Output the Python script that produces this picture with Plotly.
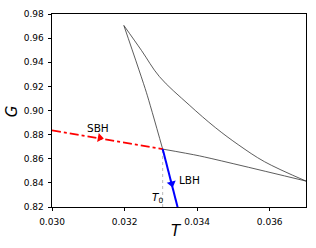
import plotly.graph_objects as go

# Swallowtail branches
inter_T = [0.03198, 0.03247, 0.03296, 0.03378, 0.03450, 0.03515, 0.03586, 0.03700]
inter_G = [0.9705, 0.9496, 0.9281, 0.9046, 0.8859, 0.8713, 0.8575, 0.8415]

lbh_unstable_T = [0.03198, 0.03260, 0.03305]
lbh_unstable_G = [0.9705, 0.9151, 0.8680]

lbh_T = [0.03305, 0.03346, 0.03352]
lbh_G = [0.8680, 0.8200, 0.8130]

sbh_T = [0.03000, 0.03305]
sbh_G = [0.8835, 0.8680]

sbh_unstable_T = [0.03305, 0.03406, 0.03700]
sbh_unstable_G = [0.8680, 0.8624, 0.8415]

T0 = 0.03305
G0 = 0.8680

arrow_T = [0.03132, 0.03330]
arrow_G = [0.8773, 0.8394]

x_ticks = [0.030, 0.032, 0.034, 0.036]
y_ticks = [0.82, 0.84, 0.86, 0.88, 0.90, 0.92, 0.94, 0.96, 0.98]

FONT = "DejaVu Sans"
thin = dict(color="#333333", width=0.8)

fig = go.Figure()
fig.add_trace(go.Scatter(x=inter_T, y=inter_G, mode="lines", line=dict(thin, shape="spline", smoothing=1.0), hoverinfo="skip"))
fig.add_trace(go.Scatter(x=lbh_unstable_T, y=lbh_unstable_G, mode="lines", line=dict(thin, shape="spline", smoothing=0.6), hoverinfo="skip"))
fig.add_trace(go.Scatter(x=sbh_unstable_T, y=sbh_unstable_G, mode="lines", line=dict(thin, shape="spline", smoothing=0.6), hoverinfo="skip"))
fig.add_trace(go.Scatter(x=[T0, T0], y=[0.82, G0], mode="lines", line=dict(color="#aaaaaa", width=0.8, dash="dot"), hoverinfo="skip"))
fig.add_trace(go.Scatter(x=sbh_T, y=sbh_G, mode="lines", line=dict(color="#ff0000", width=1.6, dash="dashdot"), hoverinfo="skip"))
fig.add_trace(go.Scatter(x=lbh_T, y=lbh_G, mode="lines", line=dict(color="#0000ff", width=2), hoverinfo="skip"))
fig.add_trace(go.Scatter(x=[arrow_T[0]], y=[arrow_G[0]], mode="markers",
                         marker=dict(symbol="triangle-right", size=8, color="#ff0000", angle=10, line=dict(width=0)), hoverinfo="skip"))
fig.add_trace(go.Scatter(x=[arrow_T[1]], y=[arrow_G[1]], mode="markers",
                         marker=dict(symbol="triangle-down", size=8, color="#0000ff", angle=-14, line=dict(width=0)), hoverinfo="skip"))

fig.add_annotation(x=0.03127, y=0.8851, text="SBH", showarrow=False, font=dict(family=FONT, size=10.5, color="black"))
fig.add_annotation(x=0.03380, y=0.8421, text="LBH", showarrow=False, font=dict(family=FONT, size=10.5, color="black"))
fig.add_annotation(x=0.03292, y=0.8273, text="<i>T</i><sub>0</sub>", showarrow=False, font=dict(family=FONT, size=10.5, color="black"))
fig.add_annotation(xref="paper", yref="paper", x=0.49, y=-0.125, xanchor="center", yanchor="middle",
                   text="<i>T</i>", showarrow=False, font=dict(family=FONT, size=15, color="black"))
fig.add_annotation(xref="paper", yref="paper", x=-0.157, y=0.497, xanchor="center", yanchor="middle",
                   text="<i>G</i>", showarrow=False, textangle=-90, font=dict(family=FONT, size=15, color="black"))

axis_common = dict(showgrid=False, zeroline=False, showline=True, linecolor="black", linewidth=0.8,
                   mirror=True, ticks="outside", ticklen=3.5, tickwidth=0.8, tickcolor="black",
                   tickfont=dict(family=FONT, size=9, color="black"))
fig.update_xaxes(range=[0.030, 0.037], tickvals=x_ticks, ticktext=[f"{v:.3f}" for v in x_ticks],
                 ticklabelstandoff=3, **axis_common)
fig.update_yaxes(range=[0.82, 0.98], tickvals=y_ticks, ticktext=[f"{v:.2f}" for v in y_ticks],
                 ticklabelstandoff=2, **axis_common)
fig.update_layout(width=316, height=248, margin=dict(l=52, r=9, t=10, b=41),
                  plot_bgcolor="white", paper_bgcolor="white", showlegend=False)

fig.write_html("out.html", config={"displayModeBar": False},
               post_script="document.body.style.margin='0';document.body.style.padding='0';document.body.style.overflow='hidden';")
